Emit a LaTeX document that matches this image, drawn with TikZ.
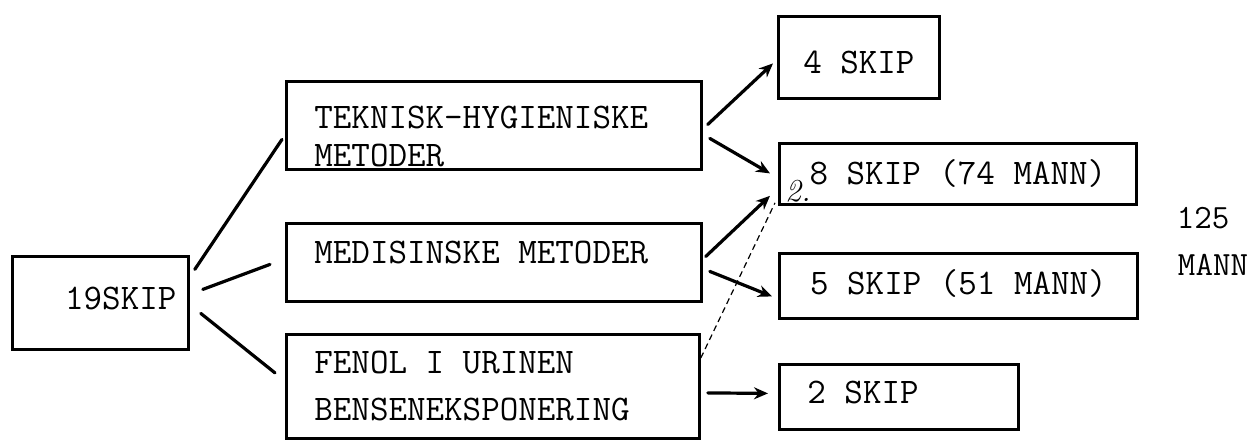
\documentclass[tikz,border=0pt]{standalone}
\usepackage{fontspec}
\usetikzlibrary{arrows.meta,calc}
\tikzset{
  bx/.style={draw, line width=1.4pt, inner ysep=0pt, inner xsep=14pt, anchor=north west,
             font=\ttfamily\fontsize{18}{16}\selectfont},
  res/.style={bx, inner xsep=10pt},
  ln/.style={line width=1.6pt, line cap=round},
  arr/.style={-{Stealth[length=7pt, width=6pt]}, line width=1.6pt, line cap=round},
  dsh/.style={line width=0.6pt, dash pattern=on 3pt off 2pt},
  side/.style={font=\ttfamily\fontsize{17}{17}\selectfont},
  hand/.style={font=\itshape\fontsize{16}{16}\selectfont},
}

\begin{document}
\begin{tikzpicture}[x=0.5pt, y=-0.5pt]
    \useasboundingbox (0,0) rectangle (1257,440);
    \node[bx, inner xsep=6pt, text width=76pt, align=flush right, text height=26.5pt, text depth=20pt]
      (ship) at (11,255) {19SKIP};
    \node[bx, text width=179.5pt, align=flush left, text height=23.5pt, text depth=20.5pt]
      (tek) at (285,80) {TEKNISK-HYGIENISKE\\[3pt]METODER};
    \node[bx, text width=179.5pt, align=flush left, text height=20pt, text depth=19pt]
      (med) at (285,222) {MEDISINSKE METODER};
    \node[bx, text width=178.5pt, align=flush left, text height=19.5pt, text depth=32.5pt]
      (fen) at (285,333) {FENOL I URINEN\\[7.5pt]BENSENEKSPONERING};
    \node[res, minimum width=80.5pt, text height=28.5pt, text depth=12.5pt]
      (four) at (777,15) {4 SKIP};
    \node[res, minimum width=178.5pt, text height=20.5pt, text depth=10pt]
      (eight) at (778,142) {8 SKIP (74 MANN)};
    \node[res, minimum width=179pt, text height=20.5pt, text depth=12pt]
      (five) at (778,252) {5 SKIP (51 MANN)};
    \node[bx, text width=91.5pt, align=flush left, text height=19.5pt, text depth=13pt]
      (two) at (778,363) {2 SKIP};
    \node[side] (tot) at (1203,218) {125};
    \node[side] (men) at (1213,265) {MANN};
    \node[hand] (note) at (798,191) {2.};
    % from 19 ships to the three methods
    \draw[ln] ($(ship.east)+(5,-33.5)$) -- ($(tek.west)+(-3,14)$);
    \draw[ln] ($(ship.east)+(13,-13.5)$) -- ($(med.west)+(-15,2)$);
    \draw[ln] ($(ship.east)+(11,10.5)$) -- ($(fen.west)+(-10,-13.5)$);
    % results
    \draw[arr] ($(tek.east)+(5,-1)$) -- ($(four.west)+(-4,6)$);
    \draw[arr] ($(tek.east)+(7,13)$) -- ($(eight.west)+(-8,-0.5)$);
    \draw[arr] ($(med.east)+(3,-6)$) -- ($(eight.south west)+(-8,-10)$);
    \draw[arr] ($(med.east)+(7,9)$) -- ($(five.west)+(-6,10.5)$);
    \draw[arr] ($(fen.east)+(7,6.5)$) -- ($(two.west)+(-10,-3.5)$);
    \draw[dsh] ($(fen.north east)+(0,25)$) -- ($(eight.south west)+(-3,-3)$);
\end{tikzpicture}
\end{document}
